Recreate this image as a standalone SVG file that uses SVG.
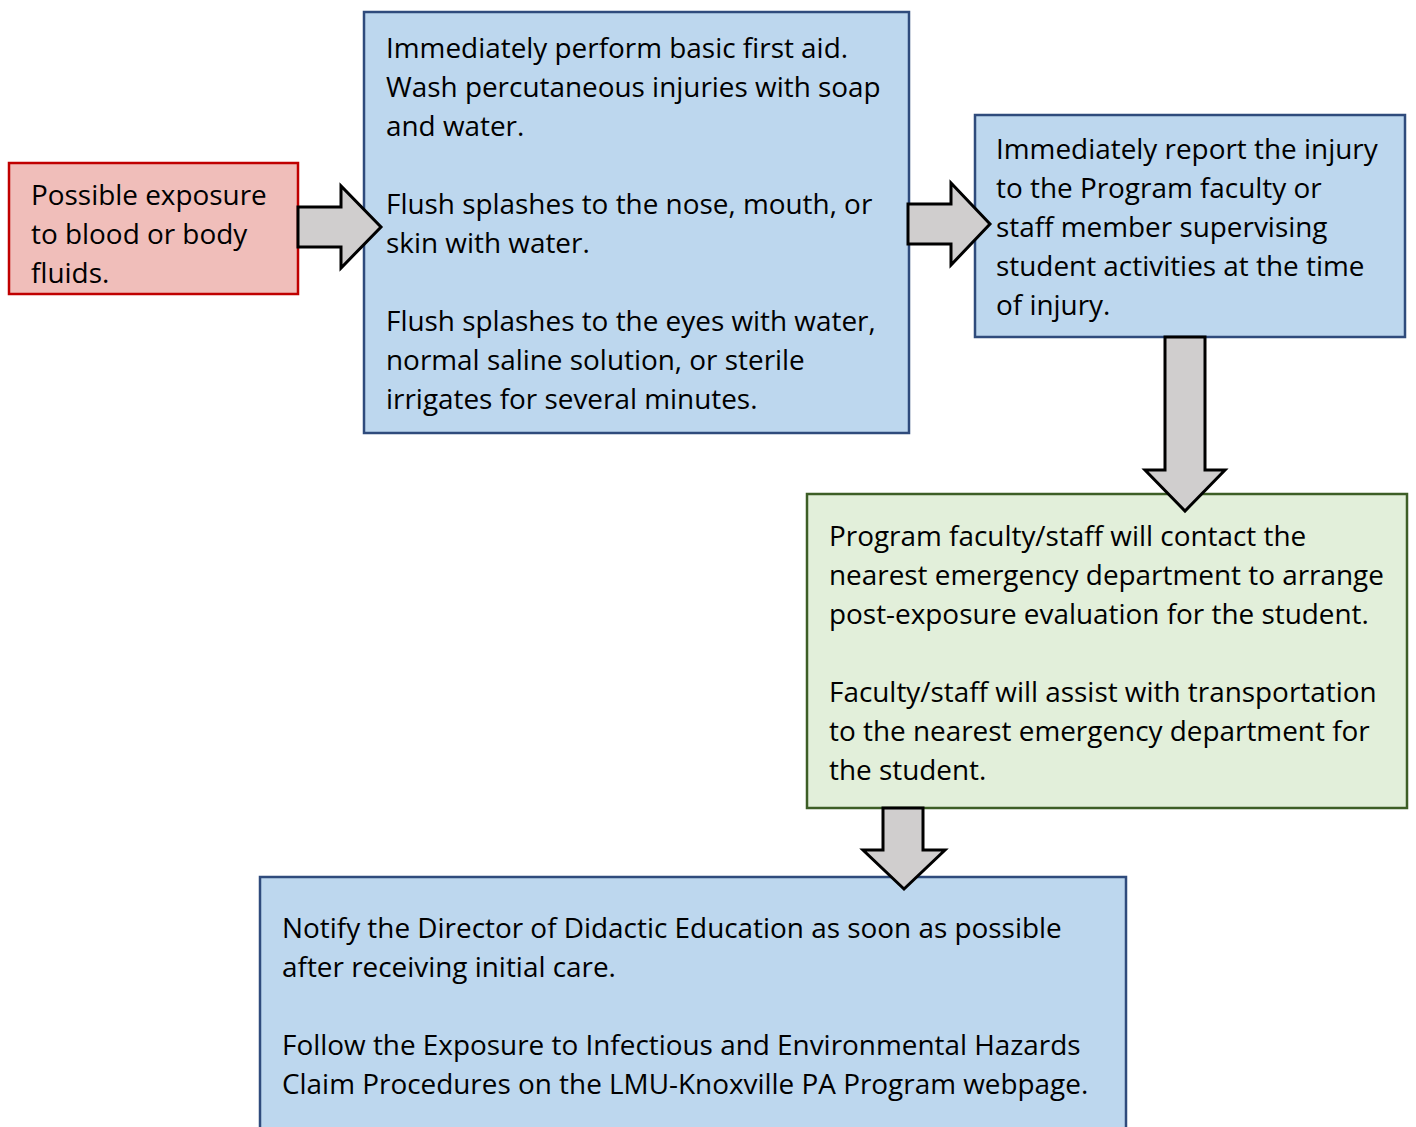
<svg xmlns="http://www.w3.org/2000/svg" width="1416" height="1127" viewBox="0 0 1416 1127">
<style>
text{font-family:"Open Sans","Noto Sans","Liberation Sans",sans-serif;font-size:27.9px;fill:#000}
.blue{fill:#BDD7EE;stroke:#2F4B7C;stroke-width:2.5}
.red{fill:#F0BEBA;stroke:#C00000;stroke-width:2.5}
.green{fill:#E2EFDA;stroke:#3D5E26;stroke-width:2.5}
.arr{fill:#D0CECE;stroke:#000;stroke-width:3;stroke-linejoin:miter}
</style>
<rect width="1416" height="1127" fill="#fff"/>
<g id="n1">
<rect class="red" x="9" y="163" width="289" height="131"/>
<text x="31" y="205">Possible exposure</text>
<text x="31" y="244">to blood or body</text>
<text x="31" y="283">fluids.</text>
</g>
<g id="n2">
<rect class="blue" x="364" y="12" width="545" height="421"/>
<text x="386" y="58">Immediately perform basic first aid.</text>
<text x="386" y="97">Wash percutaneous injuries with soap</text>
<text x="386" y="136">and water.</text>
<text x="386" y="214">Flush splashes to the nose, mouth, or</text>
<text x="386" y="253">skin with water.</text>
<text x="386" y="331">Flush splashes to the eyes with water,</text>
<text x="386" y="370">normal saline solution, or sterile</text>
<text x="386" y="409">irrigates for several minutes.</text>
</g>
<g id="n3">
<rect class="blue" x="975" y="115" width="430" height="222"/>
<text x="996" y="159">Immediately report the injury</text>
<text x="996" y="198">to the Program faculty or</text>
<text x="996" y="237">staff member supervising</text>
<text x="996" y="276">student activities at the time</text>
<text x="996" y="315">of injury.</text>
</g>
<g id="n4">
<rect class="green" x="807" y="494" width="600" height="314"/>
<text x="829" y="546">Program faculty/staff will contact the</text>
<text x="829" y="585">nearest emergency department to arrange</text>
<text x="829" y="624">post-exposure evaluation for the student.</text>
<text x="829" y="702">Faculty/staff will assist with transportation</text>
<text x="829" y="741">to the nearest emergency department for</text>
<text x="829" y="780">the student.</text>
</g>
<g id="n5">
<rect class="blue" x="260" y="877" width="866" height="262"/>
<text x="282" y="938">Notify the Director of Didactic Education as soon as possible</text>
<text x="282" y="977">after receiving initial care.</text>
<text x="282" y="1055">Follow the Exposure to Infectious and Environmental Hazards</text>
<text x="282" y="1094">Claim Procedures on the LMU-Knoxville PA Program webpage.</text>
</g>
<g id="connectors">
<polygon class="arr" points="298,207 341,207 341,186 381,227 341,268 341,247 298,247"/>
<polygon class="arr" points="908,204 951,204 951,183 990,224 951,265 951,244 908,244"/>
<polygon class="arr" points="1165,337 1205,337 1205,470 1225,470 1185,511 1145,470 1165,470"/>
<polygon class="arr" points="883,808 923,808 923,850 945,850 904,889 863,850 883,850"/>
</g>
</svg>
